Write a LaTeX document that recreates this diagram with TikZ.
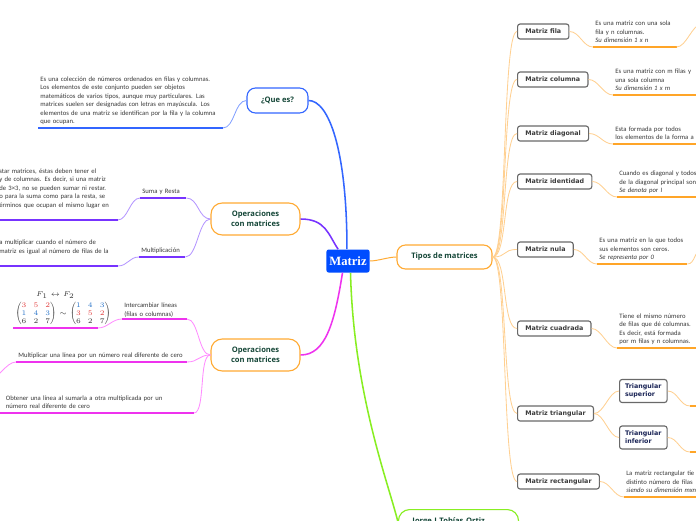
\documentclass[tikz,border=0pt]{standalone}
\usepackage{amsmath}
\usepackage{fontspec}
\setmainfont{Carlito}
\newfontfamily\headfont{Open Sans}
\newfontfamily\kindfont{DejaVu Sans}
\newfontfamily\rootfont{Liberation Serif}
\usepackage{tikz}
\definecolor{rootblue}{RGB}{0,76,255}
\definecolor{queblue}{RGB}{51,102,255}
\definecolor{paleblue}{RGB}{130,160,255}
\definecolor{opspurple}{RGB}{119,51,255}
\definecolor{palepurple}{RGB}{180,150,255}
\definecolor{opsmagenta}{RGB}{238,51,238}
\definecolor{palemagenta}{RGB}{255,140,255}
\definecolor{mainorange}{RGB}{255,170,51}
\definecolor{paleorange}{RGB}{255,208,145}
\definecolor{leaforange}{RGB}{255,165,40}
\definecolor{limegreen}{RGB}{136,238,34}
\definecolor{headgreen}{RGB}{20,70,55}
\definecolor{boxgray}{RGB}{105,105,105}
\definecolor{boxtext}{RGB}{60,60,60}
\definecolor{navy}{RGB}{25,35,85}
\definecolor{bodytext}{RGB}{55,55,55}
\definecolor{rowred}{RGB}{225,60,60}
\definecolor{rowblue}{RGB}{40,115,200}

% lines of a leaf text, kept as typed
\newcommand{\leaflines}[1]{\begin{tabular}[b]{@{}l@{}}#1\end{tabular}}

\tikzset{
  root/.style={fill=rootblue, text=white, font=\rootfont\bfseries\fontsize{9}{10}\selectfont,
    minimum width=1.075cm, minimum height=0.575cm, rounded corners=1.5pt, inner sep=0pt},
  topic/.style={draw=#1, line width=0.8pt, rounded corners=6pt, fill=white, text=headgreen,
    font=\headfont\bfseries\fontsize{5.4}{7.2}\selectfont, align=center, inner sep=0pt},
  kind/.style={draw=boxgray, line width=0.8pt, rounded corners=1.8pt, fill=white, text=boxtext,
    font=\kindfont\bfseries\fontsize{4.5}{5.6}\selectfont, anchor=west, align=left,
    minimum height=0.375cm, inner xsep=5.5pt, inner ysep=1pt},
  leaf/.style={anchor=south west, align=left, inner xsep=1.5pt, inner ysep=1.2pt, text=bodytext,
    font=\fontsize{4.75}{6}\selectfont},
  rlink/.style={to path={.. controls +(#1,0) and +(-#1,0) .. (\tikztotarget)}},
  rlink/.default=12,
  llink/.style={to path={.. controls +(-#1,0) and +(#1,0) .. (\tikztotarget)}},
  llink/.default=12,
}

\begin{document}
\begin{tikzpicture}[x=0.025cm, y=-0.025cm]
  \useasboundingbox (0,0) rectangle (696,520);
  \clip (0,0) rectangle (696,520);

  % main topics
  \node[root] (matriz) at (348,261) {Matriz};
  \node[topic=queblue, minimum width=1.525cm, minimum height=0.625cm] (que) at (277.5,100.5) {¿Que es?};
  \node[topic=mainorange, minimum width=2.225cm, minimum height=0.8cm, rounded corners=8pt] (ops1) at (255.5,219) {Operaciones\\con matrices};
  \node[topic=mainorange, minimum width=2.225cm, minimum height=0.8cm, rounded corners=8pt] (ops2) at (255.5,355) {Operaciones\\con matrices};
  \node[topic=mainorange, minimum width=2.375cm, minimum height=0.6cm] (tipos) at (444.5,257) {Tipos de matrices};
  \node[topic=limegreen, anchor=north, text width=2.3cm, align=left, inner xsep=10pt, minimum height=0.6cm, rounded corners=8pt] (autor) at (458.5,509) {Jorge I Tobías Ortiz};

  \draw[queblue, line width=1.1pt] (matriz.95) .. controls +(0,-100) and +(20,0) .. (que.east);
  \draw[opspurple, line width=1.1pt] (matriz.130) .. controls +(-10,-15) and +(25,0) .. (ops1.east);
  \draw[opsmagenta, line width=1.1pt] (matriz.245) .. controls +(-8,50) and +(25,0) .. (ops2.east);
  \draw[limegreen, line width=1.1pt] (matriz.282) .. controls +(3,120) and +(-10,-40) .. (autor.west);
  \draw[mainorange, line width=0.7pt] (matriz.east) to[rlink=8] (tipos.west);

  % ¿Que es?
  \node[leaf, text width=4.5cm] (queTxt) at (38,128) {\leaflines{Es una colección de números ordenados en filas y columnas.\\Los elementos de este conjunto pueden ser objetos\\matemáticos de varios tipos, aunque muy particulares. Las\\matrices suelen ser designadas con letras en mayúscula. Los\\elementos de una matriz se identifican por la fila y la columna\\que ocupan.}};
  \draw[paleblue, line width=0.6pt] (que.west) to[llink] (queTxt.south east);
  \draw[queblue, line width=1.2pt] (queTxt.south west) -- (queTxt.south east);

  % operaciones (suma y producto)
  \node[leaf, text width=1.04cm] (sumaLbl) at (140,198) {\leaflines{Suma y Resta}};
  \node[leaf, text width=1.04cm] (multLbl) at (139,257) {\leaflines{Multiplicación}};
  \node[leaf, text width=2.9cm] (sumaTxt) at (-3,220) {\leaflines{star matrices, éstas deben tener el\\y de columnas. Es decir, si una matriz\\de 3×3, no se pueden sumar ni restar.\\o para la suma como para la resta, se\\érminos que ocupan el mismo lugar en\\\mbox{}}};
  \node[leaf, text width=2.9cm] (multTxt) at (-3,266) {\leaflines{a multiplicar cuando el número de\\matriz es igual al número de filas de la\\\mbox{}}};
  \foreach \n in {sumaLbl,multLbl}{
    \draw[palepurple, line width=0.6pt] (ops1.west) to[llink] (\n.south east);
  }
  \draw[palepurple, line width=0.6pt] (sumaLbl.south west) to[llink=10] (sumaTxt.south east);
  \draw[palepurple, line width=0.6pt] (multLbl.south west) to[llink=10] (multTxt.south east);
  \foreach \n in {sumaLbl,multLbl,sumaTxt,multTxt}{
    \draw[opspurple, line width=1.2pt] (\n.south west) -- (\n.south east);
  }

  % operaciones (lineas)
  \node[leaf, text width=1.5cm] (swapLbl) at (122,319) {Intercambiar líneas\\(filas o columnas)};
  \node[leaf, text width=2.0cm, align=center, inner ysep=1.5pt, font=\fontsize{4.5}{5.7}\selectfont] (swapImg) at (13,328) {%
    \mbox{$F_1\leftrightarrow F_2$}\\[1pt]
    \mbox{\setlength{\arraycolsep}{2.5pt}%
    $\begin{pmatrix}\color{rowred}3&\color{rowred}5&\color{rowred}2\\ \color{rowblue}1&\color{rowblue}4&\color{rowblue}3\\ 6&2&7\end{pmatrix}\sim
     \begin{pmatrix}\color{rowblue}1&\color{rowblue}4&\color{rowblue}3\\ \color{rowred}3&\color{rowred}5&\color{rowred}2\\ 6&2&7\end{pmatrix}$}};
  \node[leaf, text width=4.15cm] (scaleLbl) at (16,362) {\leaflines{Multiplicar una línea por un número real diferente de cero}};
  \node[leaf, text width=4.55cm, inner xsep=4pt] (addLbl) at (0,413) {\leaflines{Obtener una línea al sumarla a otra multiplicada por un\\número real diferente de cero}};
  \coordinate (scaleOut) at (-12,380);
  \foreach \n in {swapLbl,scaleLbl,addLbl}{
    \draw[palemagenta, line width=0.6pt] (ops2.west) to[llink] (\n.south east);
  }
  \draw[palemagenta, line width=0.6pt] (swapLbl.south west) to[llink=10] (swapImg.south east);
  \draw[palemagenta, line width=0.6pt] (scaleLbl.south west) to[llink=10] (scaleOut);
  \foreach \n in {swapLbl,swapImg,scaleLbl,addLbl}{
    \draw[opsmagenta, line width=1.2pt] (\n.south west) -- (\n.south east);
  }

  % tipos de matrices
  \node[kind] (fila) at (517,31.5) {Matriz fila};
  \node[kind] (columna) at (517,79.5) {Matriz columna};
  \node[kind] (diagonal) at (517,133.5) {Matriz diagonal};
  \node[kind] (identidad) at (517,181.5) {Matriz identidad};
  \node[kind] (nula) at (517,249.5) {Matriz nula};
  \node[kind] (cuadrada) at (517,328.5) {Matriz cuadrada};
  \node[kind] (triangular) at (517,413.5) {Matriz triangular};
  \node[kind] (rectangular) at (517,481.5) {Matriz rectangular};
  \foreach \k in {fila,columna,diagonal,identidad,nula,cuadrada,triangular,rectangular}{
    \draw[paleorange, line width=0.6pt] (tipos.east) to[rlink=15] (\k.west);
  }

  \node[leaf, text width=1.97cm] (filaTxt) at (593,47) {\leaflines{Es una matriz con una sola\\fila y n columnas.\\\textit{Su dimensión 1 x n}}};
  \node[leaf, text width=2.4cm] (columnaTxt) at (613,95) {\leaflines{Es una matriz con m filas y\\una sola columna\\\textit{Su dimensión 1 x m}}};
  \node[leaf, text width=2.4cm] (diagonalTxt) at (613,144) {\leaflines{Esta formada por todos\\los elementos de la forma a}};
  \node[leaf, text width=2.4cm] (identidadTxt) at (617,197) {\leaflines{Cuando es diagonal y todos\\de la diagonal principal son\\\textit{Se denota por I}}};
  \node[leaf, text width=2.14cm] (nulaTxt) at (597,264) {\leaflines{Es una matriz en la que todos\\sus elementos son ceros.\\\textit{Se representa por 0}}};
  \node[leaf, text width=2.4cm] (cuadradaTxt) at (617,348) {\leaflines{Tiene el mismo número\\de filas que dé columnas.\\Es decir, está formada\\por m filas y n columnas.}};
  \node[leaf, text width=2.4cm] (rectangularTxt) at (624,497) {\leaflines{La matriz rectangular tie\\distinto número de filas\\\textit{siendo su dimensión mxn}}};
  \foreach \k in {fila,columna,diagonal,identidad,nula,cuadrada,rectangular}{
    \draw[paleorange, line width=0.6pt] (\k.east) to[rlink=10] (\k Txt.south west);
    \draw[leaforange, line width=1.2pt] (\k Txt.south west) -- (\k Txt.south east);
  }
  \coordinate (filaOut) at (702,24);
  \coordinate (nulaOut) at (702,250);
  \draw[paleorange, line width=0.6pt] (filaTxt.south east) to[rlink=10] (filaOut);
  \draw[paleorange, line width=0.6pt] (nulaTxt.south east) to[rlink=8] (nulaOut);

  % triangulares
  \node[kind, text=navy, minimum height=0.575cm, inner xsep=4pt] (superior) at (619,391) {Triangular\\superior};
  \node[kind, text=navy, minimum height=0.575cm, inner xsep=4pt] (inferior) at (619,437.5) {Triangular\\inferior};
  \coordinate (superiorLeaf) at (690,406);
  \coordinate (inferiorLeaf) at (690,452);
  \foreach \k in {superior,inferior}{
    \draw[paleorange, line width=0.6pt] (triangular.east) to[rlink=10] (\k.west);
    \draw[paleorange, line width=0.6pt] (\k.east) to[rlink=10] (\k Leaf);
    \draw[leaforange, line width=1.2pt] (\k Leaf) -- ++(20,0);
  }
\end{tikzpicture}
\end{document}
